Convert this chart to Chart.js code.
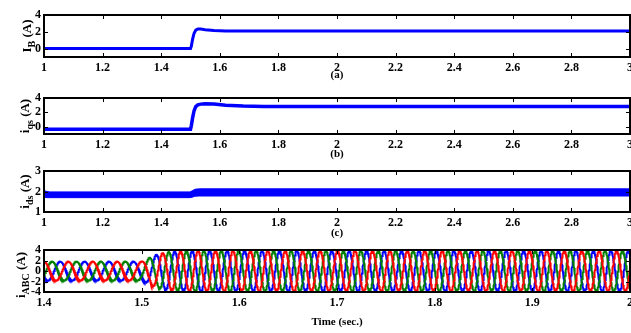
<!DOCTYPE html>
<html>
<head>
<meta charset="utf-8">
<script src="https://cdn.jsdelivr.net/npm/chart.js@4.4.1/dist/chart.umd.min.js"></script>
<style>
  body { margin: 0; background: #fff; width: 631px; height: 333px; overflow: hidden; position: relative; }
  canvas { position: absolute; left: 0; }
</style>
</head>
<body>
<canvas id="pa" width="631" height="82" style="top:0px"></canvas>
<canvas id="pb" width="631" height="79" style="top:82px"></canvas>
<canvas id="pc" width="631" height="79" style="top:161px"></canvas>
<canvas id="pd" width="631" height="90" style="top:239px"></canvas>
<script>
// (a) I_B
const tB  = [1, 1.5, 1.503, 1.507, 1.512, 1.518, 1.525, 1.535, 1.55, 1.58, 1.62, 3];
const iB  = [0, 0, 0.3, 1.1, 1.8, 2.2, 2.33, 2.33, 2.25, 2.15, 2.1, 2.1];
// (b) i_qs
const tQs = [1, 1.5, 1.503, 1.507, 1.512, 1.518, 1.525, 1.535, 1.55, 1.58, 1.62, 1.68, 1.75, 3];
const iQs = [-0.35, -0.35, 0.2, 1.2, 2.2, 2.8, 3.05, 3.15, 3.2, 3.15, 3.0, 2.88, 2.82, 2.82];
// (c) i_ds ripple band (lower / upper edge)
const tDs     = [1, 1.01, 1.02, 1.498, 1.508, 1.515, 1.53, 3];
const iDsLow  = [1.72, 1.7, 1.7, 1.7, 1.73, 1.77, 1.78, 1.78];
const iDsHigh = [2.05, 2.0, 1.98, 1.98, 2.05, 2.11, 2.13, 2.13];
// (d) i_ABC envelope and frequency
const tEnv   = [1.4, 1.5, 1.505, 1.51, 1.515, 1.52, 1.53, 1.55, 2.0];
const ampEnv = [1.8, 1.8, 2.2, 2.7, 3.1, 3.4, 3.7, 3.85, 3.85];
const hzEnv  = [40, 40, 43, 46, 49, 52, 55, 56, 56];

const xTicksTop = [1, 1.2, 1.4, 1.6, 1.8, 2, 2.2, 2.4, 2.6, 2.8, 3];
const xLabelsTop = ['1', '1.2', '1.4', '1.6', '1.8', '2', '2.2', '2.4', '2.6', '2.8', '3'];
const xTicksD = [1.4, 1.5, 1.6, 1.7, 1.8, 1.9, 2];
const xLabelsD = ['1.4', '1.5', '1.6', '1.7', '1.8', '1.9', '2'];
const yTicksAB = [0, 2, 4];
const yTicksC = [1, 2, 3];
const yTicksD = [-4, -2, 0, 2, 4];

function interp(ts, vs, t) {
  if (t <= ts[0]) return vs[0];
  for (let i = 1; i < ts.length; i++) {
    if (t <= ts[i]) {
      const f = (t - ts[i - 1]) / (ts[i] - ts[i - 1]);
      return vs[i - 1] + f * (vs[i] - vs[i - 1]);
    }
  }
  return vs[vs.length - 1];
}
const pts = (ts, vs) => ts.map((t, i) => ({ x: t, y: vs[i] }));

// build phase currents from the envelope
const ia = [], ib = [], ic = [];
const dt = 0.0002;
let th = 0;
for (let k = 0; k <= 3000; k++) {
  const t = 1.4 + k * dt;
  const A = interp(tEnv, ampEnv, t);
  ia.push({ x: t, y: A * Math.cos(th) });
  ib.push({ x: t, y: A * Math.cos(th - 2 * Math.PI / 3) });
  ic.push({ x: t, y: A * Math.cos(th - 4 * Math.PI / 3) });
  th += 2 * Math.PI * interp(tEnv, hzEnv, t) * dt;
}

const serif = '"Liberation Serif", "Times New Roman", serif';

// box, inward ticks and the y label with subscript
const frame = {
  id: 'frame',
  afterDatasetsDraw(chart, args, opts) {
    const { ctx, chartArea: a, scales: { x, y } } = chart;
    ctx.save();
    ctx.strokeStyle = '#000';
    ctx.lineWidth = 1;
    ctx.beginPath();
    x.ticks.forEach(t => {
      const px = Math.round(x.getPixelForValue(t.value)) + 0.5;
      ctx.moveTo(px, a.bottom); ctx.lineTo(px, a.bottom - 4);
      ctx.moveTo(px, a.top); ctx.lineTo(px, a.top + 4);
    });
    y.ticks.forEach(t => {
      const py = Math.round(y.getPixelForValue(t.value)) + 0.5;
      ctx.moveTo(a.left, py); ctx.lineTo(a.left + 4, py);
      ctx.moveTo(a.right, py); ctx.lineTo(a.right - 4, py);
    });
    ctx.stroke();
    ctx.lineWidth = 2;
    ctx.strokeRect(a.left, a.top, a.width, a.height);

    // rotated y title
    const parts = opts.label;
    const main = 'bold 13px ' + serif, sub = 'bold 10px ' + serif;
    let w = 0;
    parts.forEach(p => { ctx.font = p.sub ? sub : main; w += ctx.measureText(p.t).width; });
    ctx.translate(opts.base, (a.top + a.bottom) / 2 + (opts.shift || 0));
    ctx.rotate(-Math.PI / 2);
    ctx.fillStyle = '#000';
    ctx.textBaseline = 'alphabetic';
    let cx = -w / 2;
    parts.forEach(p => {
      ctx.font = p.sub ? sub : main;
      ctx.fillText(p.t, cx, p.sub ? 4 : 0);
      cx += ctx.measureText(p.t).width;
    });
    ctx.restore();
  }
};

function panel(id, datasets, cfg) {
  return new Chart(document.getElementById(id), {
    type: 'line',
    data: { datasets },
    options: {
      responsive: false,
      animation: false,
      events: [],
      layout: { padding: { top: cfg.top, left: 0, right: 1, bottom: 0 } },
      elements: { point: { radius: 0 }, line: { tension: 0 } },
      plugins: {
        legend: { display: false },
        tooltip: { enabled: false },
        frame: { label: cfg.label, base: cfg.base, shift: cfg.shift }
      },
      scales: {
        x: {
          type: 'linear',
          min: cfg.xTicks[0], max: cfg.xTicks[cfg.xTicks.length - 1],
          grid: { display: false, drawTicks: false },
          border: { display: false },
          afterBuildTicks: s => { s.ticks = cfg.xTicks.map(v => ({ value: v })); },
          ticks: {
            autoSkip: false, maxRotation: 0, padding: 4, color: '#000',
            font: { family: serif, weight: 'bold', size: 12 },
            callback: (v, i) => cfg.xLabels[i]
          },
          title: {
            display: true, text: cfg.xTitle, color: '#000', padding: 0,
            font: { family: serif, weight: 'bold', size: 11 }
          },
          afterFit: s => { s.height = cfg.xh; s.paddingLeft = 0; s.paddingRight = 0; }
        },
        y: {
          min: cfg.yMin, max: cfg.yMax,
          grid: { display: false, drawTicks: false },
          border: { display: false },
          afterBuildTicks: s => { s.ticks = cfg.yTicks.map(v => ({ value: v })); },
          ticks: {
            autoSkip: false, padding: 3, color: '#000',
            font: { family: serif, weight: 'bold', size: 12 },
            callback: (v, i) => String(cfg.yTicks[i])
          },
          afterFit: s => { s.width = 44; s.paddingTop = 0; s.paddingBottom = 0; }
        }
      }
    },
    plugins: [frame]
  });
}

const blue = '#0000ff';

panel('pa', [
  { data: pts(tB, iB), borderColor: blue, borderWidth: 3 }
], {
  top: 15, xh: 25, xTicks: xTicksTop, xLabels: xLabelsTop, xTitle: '(a)',
  yMin: -1, yMax: 4, yTicks: yTicksAB, base: 31,
  label: [{ t: 'I' }, { t: 'B', sub: true }, { t: ' (A)' }]
});

panel('pb', [
  { data: pts(tQs, iQs), borderColor: blue, borderWidth: 3.5 }
], {
  top: 16, xh: 27, xTicks: xTicksTop, xLabels: xLabelsTop, xTitle: '(b)',
  yMin: -1, yMax: 4, yTicks: yTicksAB, base: 29,
  label: [{ t: 'i' }, { t: 'qs', sub: true }, { t: ' (A)' }]
});

panel('pc', [
  { data: pts(tDs, iDsLow), borderColor: blue, borderWidth: 1 },
  { data: pts(tDs, iDsHigh), borderColor: blue, borderWidth: 1, fill: '-1', backgroundColor: blue }
], {
  top: 10, xh: 28, xTicks: xTicksTop, xLabels: xLabelsTop, xTitle: '(c)',
  yMin: 1, yMax: 3, yTicks: yTicksC, base: 29,
  label: [{ t: 'i' }, { t: 'ds', sub: true }, { t: ' (A)' }]
});

panel('pd', [
  { data: ic, borderColor: blue, borderWidth: 2, order: 3 },
  { data: ib, borderColor: '#008000', borderWidth: 2, order: 2 },
  { data: ia, borderColor: '#ff0000', borderWidth: 2, order: 1 }
], {
  top: 11, xh: 37, xTicks: xTicksD, xLabels: xLabelsD, xTitle: 'Time (sec.)',
  yMin: -4, yMax: 4, yTicks: yTicksD, base: 25, shift: 4,
  label: [{ t: 'i' }, { t: 'ABC', sub: true }, { t: ' (A)' }]
});
</script>
</body>
</html>
